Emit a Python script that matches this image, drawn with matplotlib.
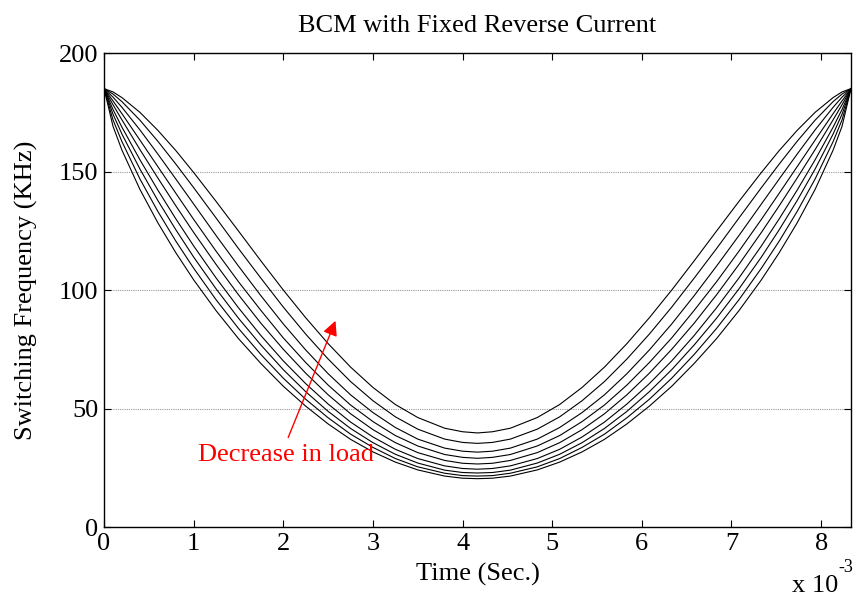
import matplotlib.pyplot as plt

plt.rcParams['font.family'] = ['Liberation Serif', 'DejaVu Serif']

# time in ms (plotted with the x 10^-3 multiplier like the original)
t_ms = [0, 0.1, 0.2, 0.4, 0.6, 0.8, 1.0, 1.25, 1.5, 1.75, 2.0, 2.25, 2.5, 2.75, 3.0, 3.25, 3.5, 3.8, 4.0,
        4.1667,
        4.3333, 4.5333, 4.8333, 5.0833, 5.3333, 5.5833, 5.8333, 6.0833, 6.3333, 6.5833, 6.8333, 7.0833,
        7.3333, 7.5333, 7.7333, 7.9333, 8.1333, 8.2333, 8.3333]

# switching frequency (kHz), lightest load first
f1 = [185, 183.6, 181.2, 175.0, 167.4, 158.9, 149.6, 137.4, 124.9, 112.3, 100.0, 88.3, 77.4, 67.5, 58.9, 51.7, 46.2, 41.7, 40.2,
      39.7,
      40.2, 41.7, 46.2, 51.7, 58.9, 67.5, 77.4, 88.3, 100.0, 112.3, 124.9, 137.4, 149.6, 158.9, 167.4, 175.0, 181.2, 183.6, 185]
f2 = [185, 182.7, 179.5, 171.7, 162.8, 153.2, 143.2, 130.4, 117.5, 105.0, 92.8, 81.4, 70.9, 61.4, 53.3, 46.5, 41.3, 37.1, 35.7,
      35.3,
      35.7, 37.1, 41.3, 46.5, 53.3, 61.4, 70.9, 81.4, 92.8, 105.0, 117.5, 130.4, 143.2, 153.2, 162.8, 171.7, 179.5, 182.7, 185]
f3 = [185, 181.4, 177.1, 167.6, 157.4, 146.9, 136.3, 123.0, 110.1, 97.6, 85.7, 74.7, 64.7, 55.8, 48.3, 42.0, 37.1, 33.3, 32.0,
      31.6,
      32.0, 33.3, 37.1, 42.0, 48.3, 55.8, 64.7, 74.7, 85.7, 97.6, 110.1, 123.0, 136.3, 146.9, 157.4, 167.6, 177.1, 181.4, 185]
f4 = [185, 179.8, 174.4, 163.3, 152.1, 140.9, 129.8, 116.4, 103.5, 91.4, 79.8, 69.4, 59.9, 51.5, 44.5, 38.6, 34.2, 30.6, 29.4,
      29.0,
      29.4, 30.6, 34.2, 38.6, 44.5, 51.5, 59.9, 69.4, 79.8, 91.4, 103.5, 116.4, 129.8, 140.9, 152.1, 163.3, 174.4, 179.8, 185]
f5 = [185, 178.2, 171.8, 159.3, 147.3, 135.6, 124.3, 110.8, 98.0, 86.0, 75.0, 64.9, 55.8, 47.8, 41.1, 35.6, 31.4, 28.1, 26.9,
      26.6,
      26.9, 28.1, 31.4, 35.6, 41.1, 47.8, 55.8, 64.9, 75.0, 86.0, 98.0, 110.8, 124.3, 135.6, 147.3, 159.3, 171.8, 178.2, 185]
f6 = [185, 176.2, 168.7, 155.0, 142.2, 130.1, 118.6, 105.1, 92.5, 80.8, 70.1, 60.5, 51.9, 44.3, 38.0, 32.8, 28.9, 25.8, 24.7,
      24.4,
      24.7, 25.8, 28.9, 32.8, 38.0, 44.3, 51.9, 60.5, 70.1, 80.8, 92.5, 105.1, 118.6, 130.1, 142.2, 155.0, 168.7, 176.2, 185]
f7 = [185, 174.2, 165.8, 151.1, 137.8, 125.5, 113.9, 100.5, 88.1, 76.8, 66.4, 57.1, 48.8, 41.6, 35.6, 30.7, 27.0, 24.0, 23.0,
      22.8,
      23.0, 24.0, 27.0, 30.7, 35.6, 41.6, 48.8, 57.1, 66.4, 76.8, 88.1, 100.5, 113.9, 125.5, 137.8, 151.1, 165.8, 174.2, 185]
f8 = [185, 171.8, 162.6, 146.9, 133.2, 120.7, 109.2, 95.9, 83.8, 72.8, 62.8, 53.9, 46.1, 39.2, 33.6, 28.9, 25.4, 22.7, 21.7,
      21.5,
      21.7, 22.7, 25.4, 28.9, 33.6, 39.2, 46.1, 53.9, 62.8, 72.8, 83.8, 95.9, 109.2, 120.7, 133.2, 146.9, 162.6, 171.8, 185]
f9 = [185, 169.1, 159.0, 142.5, 128.4, 115.8, 104.3, 91.3, 79.5, 69.0, 59.4, 51.0, 43.5, 37.0, 31.7, 27.4, 24.1, 21.5, 20.6,
      20.4,
      20.6, 21.5, 24.1, 27.4, 31.7, 37.0, 43.5, 51.0, 59.4, 69.0, 79.5, 91.3, 104.3, 115.8, 128.4, 142.5, 159.0, 169.1, 185]

curves = [f1, f2, f3, f4, f5, f6, f7, f8, f9]

fig = plt.figure(figsize=(8.57, 6.03), dpi=100)
ax = fig.add_axes([0.1214, 0.126, 0.8716, 0.786])

for f in curves:
    ax.plot(t_ms, f, color='black', lw=0.8)

ax.set_xlim(0, 8.3333)
ax.set_ylim(0, 200)
ax.set_xticks(range(0, 9))
ax.set_yticks([0, 50, 100, 150, 200])
ax.yaxis.grid(True, color='#999999', linestyle=(0, (1, 1)), lw=0.8)
ax.tick_params(direction='in', length=5, width=0.8, top=True, right=True,
               labelsize=19, pad=4)
for s in ax.spines.values():
    s.set_linewidth(1.0)

ax.set_title('BCM with Fixed Reverse Current', fontsize=19, pad=15)
ax.set_xlabel('Time (Sec.)', fontsize=19)
ax.set_ylabel('Switching Frequency (KHz)', fontsize=19)
ax.xaxis.set_label_coords(0.5, -0.075)
ax.yaxis.set_label_coords(-0.088, 0.5)

fig.text(0.924, 0.01, 'x 10', fontsize=19, ha='left', va='bottom')
fig.text(0.978, 0.045, '-3', fontsize=13, ha='left', va='bottom')

ax.annotate('', xy=(2.594, 88.1), xytext=(2.043, 36.7),
            arrowprops=dict(arrowstyle='-|>', color='red', lw=1.0, mutation_scale=22))
ax.text(2.03, 30.4, 'Decrease in load', color='red', fontsize=19, ha='center', va='center')

fig.savefig('out.png', dpi=100)
